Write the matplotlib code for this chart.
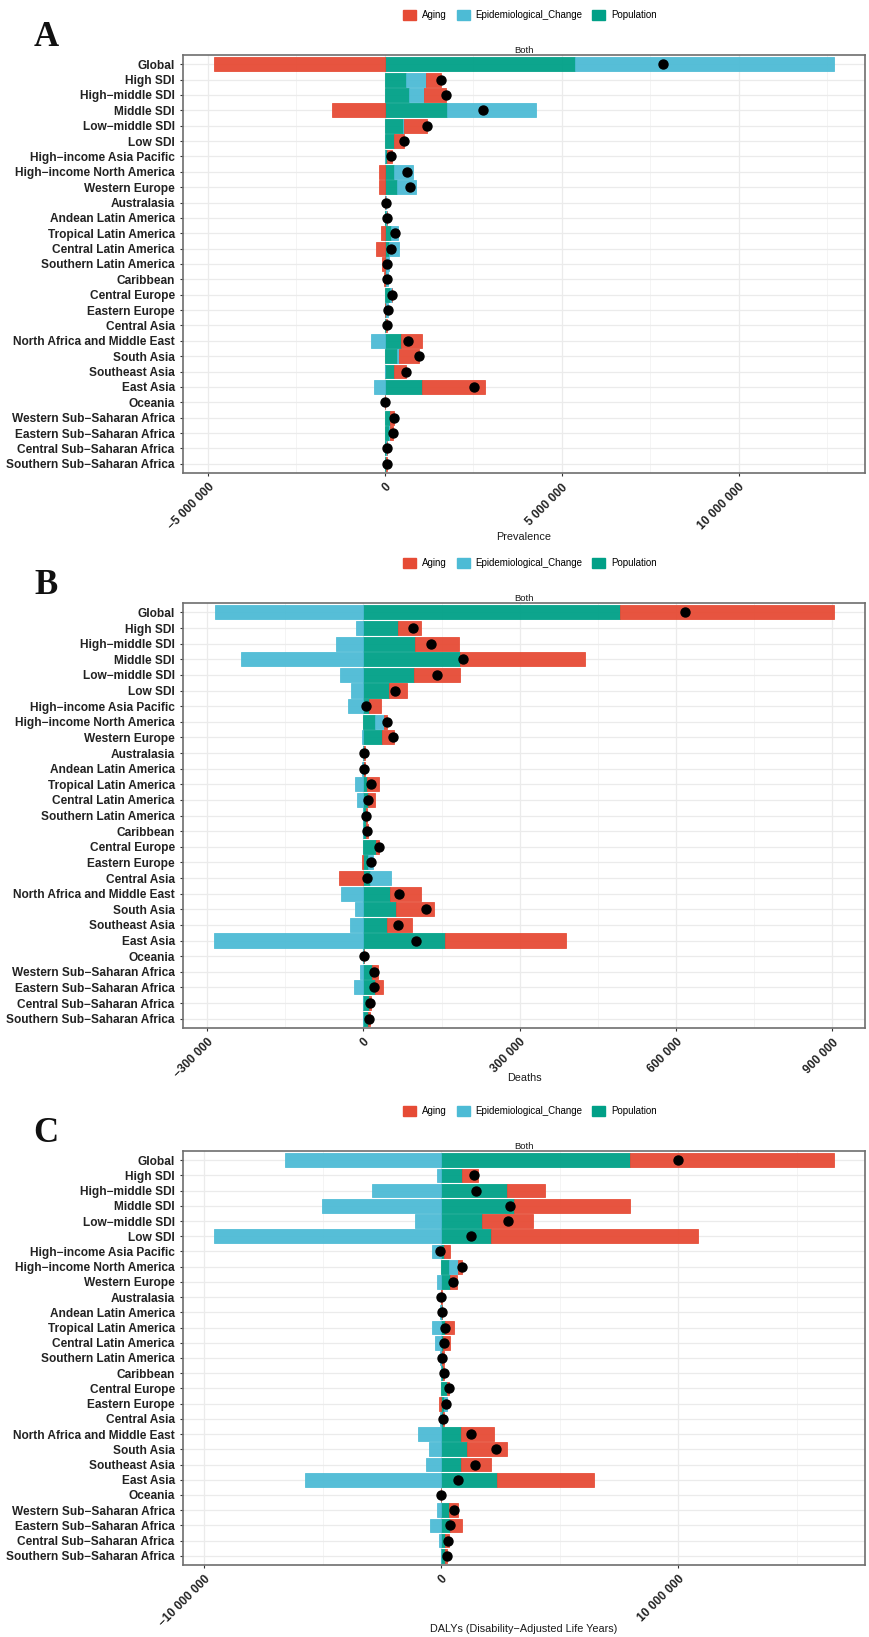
#decomposition bars: aging / epidemiological change / population, three measures
import numpy as np
import matplotlib.pyplot as plt
from matplotlib.patches import Patch
from matplotlib.ticker import FuncFormatter, FixedLocator

M = "\u2212"  # R draws hyphens in labels as a minus sign

regions = ["Global", "High SDI", "High" + M + "middle SDI", "Middle SDI", "Low" + M + "middle SDI",
           "Low SDI", "High" + M + "income Asia Pacific", "High" + M + "income North America",
           "Western Europe", "Australasia", "Andean Latin America", "Tropical Latin America",
           "Central Latin America", "Southern Latin America", "Caribbean", "Central Europe",
           "Eastern Europe", "Central Asia", "North Africa and Middle East", "South Asia",
           "Southeast Asia", "East Asia", "Oceania", "Western Sub" + M + "Saharan Africa",
           "Eastern Sub" + M + "Saharan Africa", "Central Sub" + M + "Saharan Africa",
           "Southern Sub" + M + "Saharan Africa"]

# A - prevalence (millions)
prev_aging = [-4.83, 0.42, 0.64, -1.49, 0.65, 0.27, 0.12, -0.16, -0.16, -0.005, 0.02, -0.10, -0.24,
              -0.07, -0.03, 0.01, -0.005, 0.005, 0.58, 0.56, 0.36, 1.77, 0.002, 0.11, 0.11, 0.02, 0.02]
prev_epi = [7.32, 0.58, 0.42, 2.51, 0.04, 0.02, -0.01, 0.52, 0.53, 0.01, 0.005, 0.21, 0.29,
            0.08, 0.07, 0.06, 0.05, 0.01, -0.39, 0.06, -0.01, -0.30, 0.0, 0.01, 0.01, 0.005, 0.0]
prev_pop = [5.37, 0.59, 0.68, 1.76, 0.51, 0.245, 0.066, 0.27, 0.34, 0.015, 0.04, 0.17, 0.12,
            0.04, 0.03, 0.13, 0.03, 0.03, 0.46, 0.35, 0.245, 1.05, 0.005, 0.13, 0.12, 0.04, 0.03]

# B - deaths (thousands)
death_aging = [410, 45, 82.7, 240, 89, 35, 22, 6, 22, 1, 2, 23, 12, 3, 3.5, 6, -3, -46, 59, 73,
               47.4, 231, 0.3, 10.3, 14.7, 4, 3]
death_epi = [-285, -15, -52.6, -235, -44, -24, -29, 17, -2, -1.5, -2, -16, -12, -1.5, -1.5, 0.5, 9,
             40, -42, -16, -26, -286.5, -0.5, -6.4, -17, -1, -0.5]
death_pop = [493, 66, 100, 186, 97, 49, 11.5, 22, 36.5, 2, 2, 7, 9.6, 4.5, 4.5, 24, 9, 12.8, 51,
             63, 45.5, 157, 0.8, 17.3, 22.4, 10, 9]

# C - DALYs (millions)
daly_aging = [8.59, 0.66, 1.61, 4.89, 2.17, 8.76, 0.25, 0.15, 0.28, 0.01, 0.03, 0.38, 0.28, 0.05,
              0.06, 0.07, -0.07, 0.05, 1.39, 1.69, 1.24, 4.08, 0.005, 0.37, 0.49, 0.18, 0.10]
daly_epi = [-6.59, -0.18, -2.92, -5.04, -1.08, -9.58, -0.39, 0.38, -0.15, -0.01, -0.03, -0.37,
            -0.24, -0.05, -0.02, 0.0, 0.13, -0.03, -0.96, -0.49, -0.65, -5.75, -0.005, -0.18,
            -0.48, -0.07, -0.02]
daly_pop = [7.99, 0.90, 2.79, 3.07, 1.73, 2.10, 0.11, 0.34, 0.38, 0.01, 0.03, 0.17, 0.10, 0.06,
            0.07, 0.27, 0.14, 0.08, 0.85, 1.10, 0.85, 2.38, 0.005, 0.34, 0.38, 0.17, 0.17]

causes = ["Aging", "Epidemiological_Change", "Population"]
colors = {"Aging": "#E64B35", "Epidemiological_Change": "#4DBBD5", "Population": "#00A087"}

W, H = 870, 1637
fig = plt.figure(figsize=(W / 100, H / 100), dpi=100)
fig.patch.set_facecolor("white")
plt.rcParams['font.family'] = ['Liberation Sans', 'DejaVu Sans']


def fmt(v, pos):
    s = format(int(round(v)), ",").replace(",", " ")
    return s.replace("-", M)


panels = [
    # letter, data, scale, title, majors, minors, legend y, panel top, panel bottom, title y
    ("A", (prev_aging, prev_epi, prev_pop), 1e6, "Prevalence",
     [-5e6, 0, 5e6, 10e6], [-2.5e6, 2.5e6, 7.5e6, 12.5e6], 15, 55, 473, 537),
    ("B", (death_aging, death_epi, death_pop), 1e3, "Deaths",
     [-3e5, 0, 3e5, 6e5, 9e5], [-1.5e5, 1.5e5, 4.5e5, 7.5e5], 563, 603, 1028, 1078),
    ("C", (daly_aging, daly_epi, daly_pop), 1e6, "DALYs (Disability" + M + "Adjusted Life Years)",
     [-10e6, 0, 10e6], [-5e6, 5e6, 15e6], 1111, 1151, 1565, 1629),
]

y = np.arange(len(regions))
left_px, right_px = 183, 865

for letter, data, scale, title, majors, minors, leg_y, top, bottom, title_y in panels:
    ax = fig.add_axes([left_px / W, 1 - bottom / H, (right_px - left_px) / W, (bottom - top) / H])
    vals = {c: np.array(d) * scale for c, d in zip(causes, data)}

    # ggplot stacking: Population nearest zero, then Epi, then Aging (positives and negatives apart)
    pos_base = np.zeros(len(regions))
    neg_base = np.zeros(len(regions))
    for c in ["Population", "Epidemiological_Change", "Aging"]:
        v = vals[c]
        left = np.where(v >= 0, pos_base, neg_base)
        ax.barh(y, v, left=left, height=0.9, color=colors[c], alpha=0.95,
                edgecolor=colors[c], linewidth=0.6, zorder=3)
        pos_base = pos_base + np.clip(v, 0, None)
        neg_base = neg_base + np.clip(v, None, 0)

    total = vals["Aging"] + vals["Epidemiological_Change"] + vals["Population"]
    ax.scatter(total, y, s=42, color="black", zorder=4)

    lo, hi = neg_base.min(), pos_base.max()
    pad = (hi - lo) * 0.05
    ax.set_xlim(lo - pad, hi + pad)
    ax.set_ylim(len(regions) - 0.4, -0.6)

    ax.xaxis.set_major_locator(FixedLocator(majors))
    ax.xaxis.set_minor_locator(FixedLocator(minors))
    ax.xaxis.set_major_formatter(FuncFormatter(fmt))
    ax.set_yticks(y)
    ax.set_yticklabels(regions)

    ax.grid(which="major", color="#EBEBEB", linewidth=0.9, zorder=0)
    ax.grid(which="minor", axis="x", color="#F2F2F2", linewidth=0.6, zorder=0)
    ax.set_axisbelow(True)
    for s in ax.spines.values():
        s.set_color("#6E6E6E")
        s.set_linewidth(1.2)

    ax.tick_params(axis="both", which="major", length=2.5, color="#333333", width=0.8)
    ax.tick_params(axis="x", which="minor", length=0)
    for lab in ax.get_yticklabels():
        lab.set_fontsize(8.6)
        lab.set_fontweight("bold")
        lab.set_color("#222222")
    for lab in ax.get_xticklabels():
        lab.set_fontsize(8.6)
        lab.set_fontweight("bold")
        lab.set_color("#222222")
        lab.set_rotation(45)
        lab.set_ha("right")
        lab.set_va("top")
        lab.set_rotation_mode("anchor")

    ax.text(0.5, 1.0, "Both", transform=ax.transAxes, ha="center", va="bottom",
            fontsize=6.8, color="#1A1A1A")
    fig.text(524 / W, 1 - title_y / H, title, ha="center", va="center", fontsize=7.8, color="#1A1A1A")
    fig.text(46 / W, 1 - (top - 17) / H, letter, ha="center", va="center", fontsize=25,
             fontweight="bold", family="Liberation Serif", color="#111111")

    handles = [Patch(facecolor=colors[c], edgecolor=colors[c]) for c in causes]
    fig.legend(handles, causes, loc="center", bbox_to_anchor=(530 / W, 1 - leg_y / H), ncol=3,
               frameon=False, fontsize=7, handlelength=1.35, handleheight=1.35,
               columnspacing=1.0, handletextpad=0.6)

fig.savefig("out.png", dpi=100, facecolor="white")
